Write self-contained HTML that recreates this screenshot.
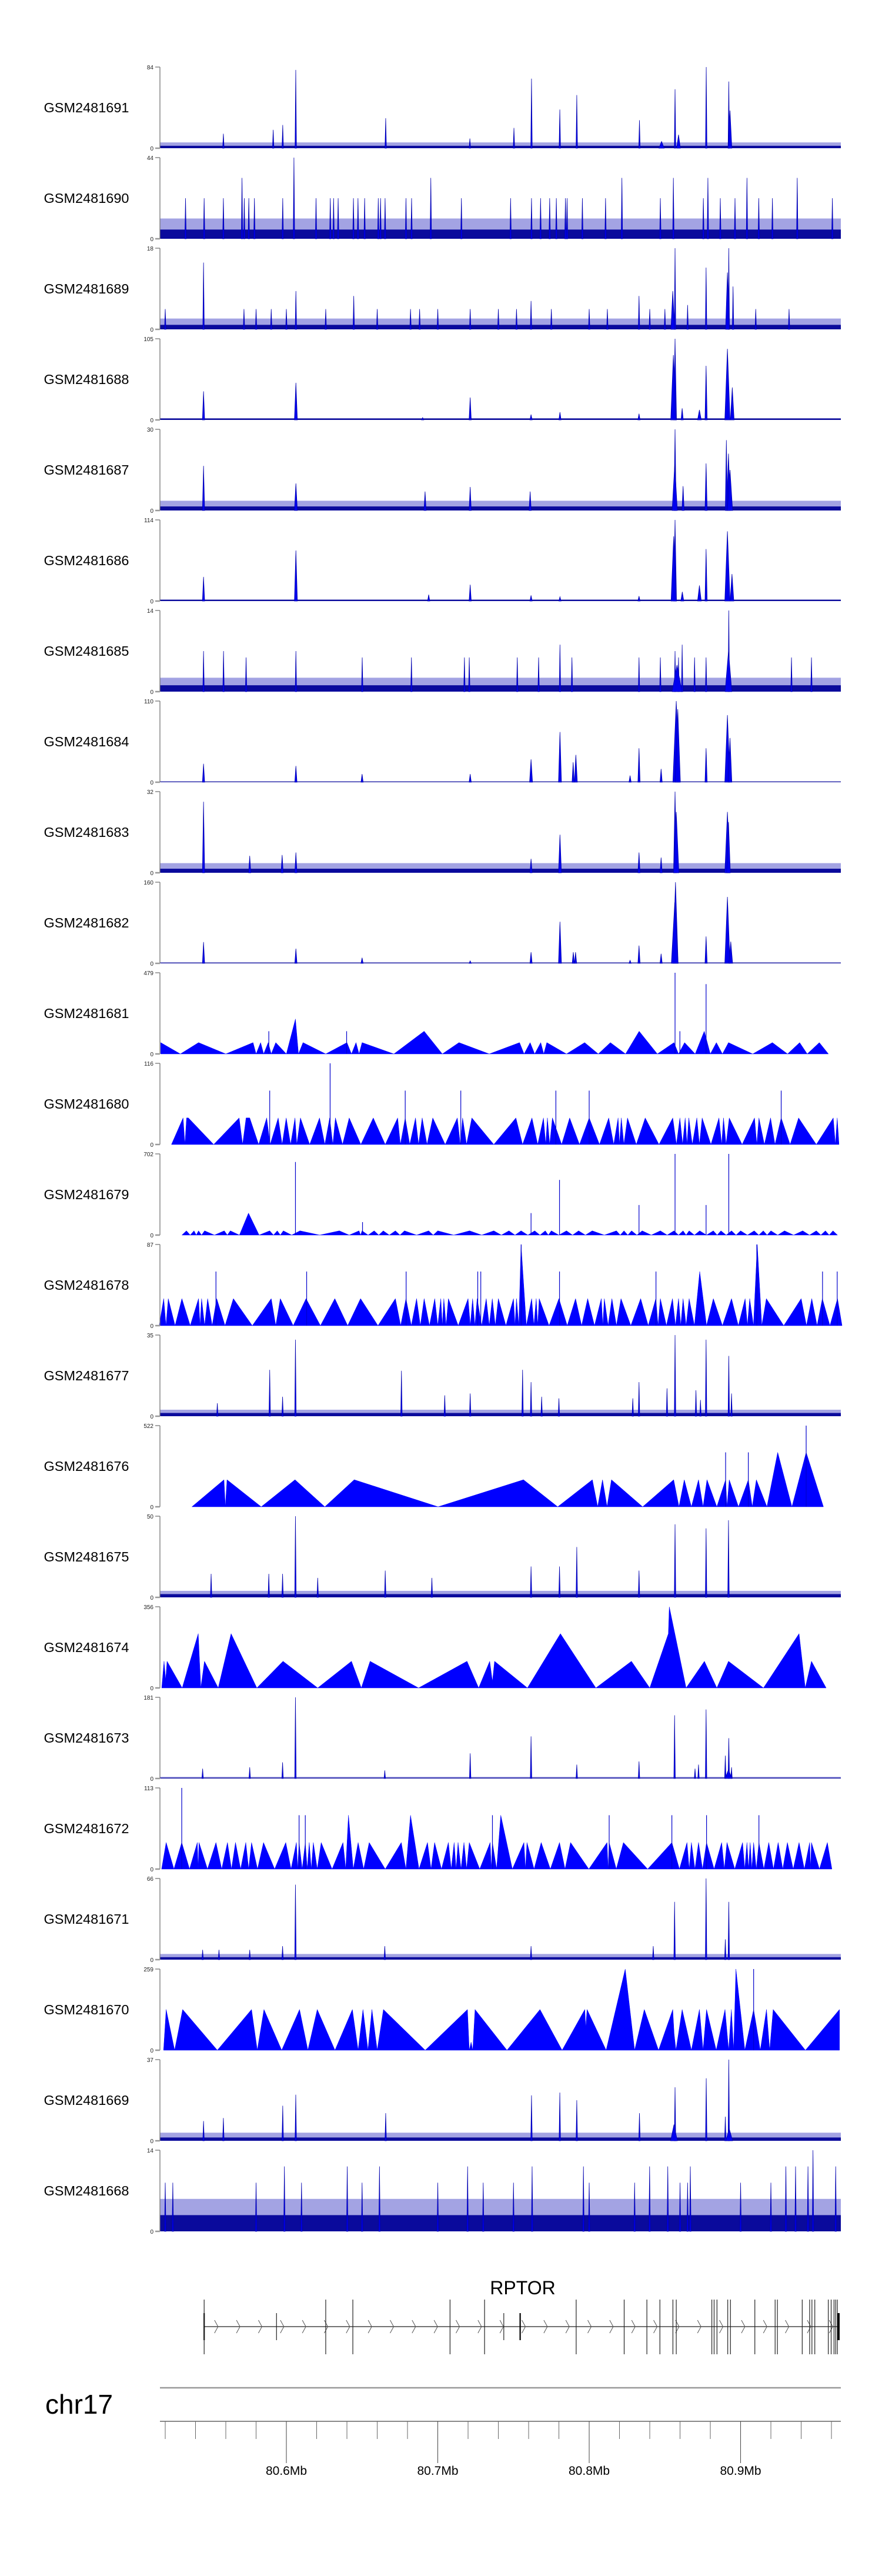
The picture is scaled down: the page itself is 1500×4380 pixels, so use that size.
<!DOCTYPE html>
<html><head><meta charset="utf-8"><title>RPTOR tracks</title>
<style>html,body{margin:0;padding:0;background:#fff}svg{display:block}text{font-family:"Liberation Sans",Arial,sans-serif}</style>
</head><body>
<svg id="fig" width="1500" height="4380" viewBox="0 0 1500 4380" xmlns="http://www.w3.org/2000/svg"></svg>
<script>
// ---- data (positions in kb relative to 80.5 Mb) ----
const trackNames = ["GSM2481691","GSM2481690","GSM2481689","GSM2481688","GSM2481687","GSM2481686","GSM2481685","GSM2481684","GSM2481683","GSM2481682","GSM2481681","GSM2481680","GSM2481679","GSM2481678","GSM2481677","GSM2481676","GSM2481675","GSM2481674","GSM2481673","GSM2481672","GSM2481671","GSM2481670","GSM2481669","GSM2481668"];
const trackMax = [84,44,18,105,30,114,14,110,32,160,479,116,702,87,35,522,50,356,181,113,66,259,37,14];
const floorVals = [2.5,5,1,2,1.5,2,1.1,1,1.6,1.6,0,0,0,0,1.4,0,2,0,1.8,0,2,0,1.5,2.8];
const grassVals = [6,11,2.4,0,3.6,0,2.4,0,3.8,0,0,0,0,0,2.8,0,4,0,3.6,0,4.6,0,3.7,5.6];

const peaks1691 = [[106.2,81],[97.6,24],[91.3,19],[58.4,15],[165.6,31],[261.9,72],[250.3,21],[280.6,40],[291.8,55],[333.2,29],[356.7,61],[377.3,84],[392.2,69],[393,39,2],[221.2,10],[347.8,7,3],[359,14,2]];
const peaks1690 = [[105,44],[70.7,33],[195.4,33],[321.6,33],[355.6,33],[378.4,33],[404.2,33],[437.4,33],[33.4,22],[45.7,22],[58.4,22],[72.2,22],[75.2,22],[78.9,22],[97.6,22],[119.6,22],[129,22],[131.2,22],[134.2,22],[144.3,22],[147.3,22],[151.7,22],[160.7,22],[162.2,22],[165.2,22],[179,22],[182.7,22],[215.6,22],[248.1,22],[261.9,22],[267.9,22],[273.9,22],[278.3,22],[284.3,22],[285.4,22],[295.5,22],[310.8,22],[347,22],[375.4,22],[386.6,22],[396.3,22],[412,22],[421,22],[460.6,22]];
const peaks1689 = [[45.3,14.8],[106.3,8.5],[144.5,7.4],[261.6,6.3],[332.9,7.4],[356.7,18],[355.2,8.5,2],[377.2,13.7],[392.2,18],[391.3,12.6,2],[395,9.5],[365,5.4],[20,4.5],[72,4.5],[80,4.5],[90,4.5],[100,4.5],[126,4.5],[160,4.5],[182,4.5],[188,4.5],[200,4.5],[221.4,4.5],[240,4.5],[252,4.5],[275,4.5],[300,4.5],[312,4.5],[340,4.5],[350,4.5],[410,4.5],[432,4.5]];
const peaks1688 = [[45.3,37,1],[106.3,48,1.5],[221.4,29,1],[261.6,7,1],[280.7,10,1],[332.9,8,1],[356.7,105,1.5],[355.6,84,3],[361.4,15,1],[372.8,13,2],[377.2,70,1],[391.3,92,3],[394.5,42,2],[190,3,1]];
const peaks1687 = [[45.3,16.5,1],[106.3,10,1.5],[221.4,8.7,1],[356.7,30,1],[356.5,17,3],[362,9,1],[377.2,17.4,1],[390.6,26,1],[392,21,2],[393,15,3],[191.6,7,1],[261,7,1]];
const peaks1686 = [[45.3,34,1],[106.3,71,1.5],[194,9,1],[221.4,23,1],[261.6,8,1],[280.7,6,1],[332.9,7,1],[356.7,114,1.5],[355.8,91,3],[361.5,13,1.5],[372.8,22,2],[377.2,73,1],[391.3,98,3],[394.3,38,2]];
const peaks1685 = [[45.3,7],[58.5,7],[106.3,7],[356.7,7],[280.7,8.1],[361.4,8.1],[73.4,5.9],[150.1,5.9],[182.6,5.9],[217.6,5.9],[220.8,5.9],[252.5,5.9],[266.6,5.9],[288.6,5.9],[332.9,5.9],[347,5.9],[359,5.9],[369.6,5.9],[377.2,5.9],[433.6,5.9],[446.8,5.9],[392.2,14],[358,4.6,6],[392,7,4]];
const peaks1684 = [[45.3,25,1],[106.3,22,1],[150,11,1],[221.4,11,1],[261.6,31,1.5],[280.7,68,1.5],[289.4,27,1],[291.2,37,1.5],[327,9,1],[332.9,46,1],[347.5,18,1],[357.5,110,4],[358.5,99,3],[377.2,46,1],[391.3,91,3],[393,60,2]];
const peaks1683 = [[45.3,28,1],[75.8,6.7,1],[97.2,7,1],[106.3,8,1],[261.6,5.5,1],[280.7,15,1.5],[332.9,8,1],[347.5,6,1],[356.7,32,1.5],[357.5,24,3],[391.3,24,3],[392,20,2]];
const peaks1682 = [[45.3,42,1],[106.3,29,1],[150,11,1],[221.4,5,1],[261.6,22,1],[280.7,82,1.5],[289.5,22,1],[291,22,1],[327,6,1],[332.9,35,1],[347.5,19,1],[357,160,3],[356.5,120,4],[377.2,53,1],[391.3,131,3],[393.5,43,2]];
const peaks1677 = [[89,20],[106,33],[97.5,8.4],[176,19.6],[204.6,9],[221.4,9.8],[256,20],[261.6,14.7],[268.6,8.4],[280,7.7],[328.8,7.7],[332.9,14.7],[351.4,12],[356.7,35],[370.5,11.2],[373.5,7],[377.2,33],[392.2,26],[394,9.8],[54.4,5.6]];
const peaks1675 = [[106,50],[356.7,45],[377.2,42.5],[392,47.5],[291.8,31],[261.6,19],[280.4,19],[332.9,16.5],[165.3,16.5],[50.3,14.5],[88.4,14.5],[97.5,14.5],[120.7,12],[196.1,12]];
const peaks1673 = [[106,181],[221.4,56],[261.6,94],[291.8,31],[332.9,38],[356.4,141],[377.2,154],[392.2,90],[389.9,51],[394,25],[372.2,31],[369.9,22],[44.7,22],[75.8,25],[97.5,36],[165,18],[392,20,4]];
const peaks1671 = [[106,61],[356.4,47],[377.2,66],[392.2,47],[389.9,16.5],[97.5,11],[261.6,11],[165,11],[342.3,11],[44.7,8],[55.5,8],[75.8,8]];
const peaks1669 = [[392.2,37],[377.3,28.5],[356.7,24.4],[280.6,22],[261.9,20.7],[291.8,18.5],[333.2,12.6],[106.2,21],[97.6,16],[165.6,12.6],[58.4,10.4],[45.3,9],[389.9,11],[356,7.4,4],[392.5,5.5,4]];
const peaks1668 = [[98.7,11.2],[140.2,11.2],[161.5,11.2],[219.7,11.2],[262.3,11.2],[296.2,11.2],[339.9,11.2],[351.9,11.2],[366.8,11.2],[429.9,11.2],[436.3,11.2],[444.5,11.2],[447.8,14],[462.8,11.2],[20,8.4],[25,8.4],[80,8.4],[110,8.4],[150,8.4],[200,8.4],[230,8.4],[250,8.4],[300,8.4],[330,8.4],[360,8.4],[365,8.4],[400,8.4],[420,8.4]];

// triangle tracks (explicit vertices)
const tri1681X = [17,30,42,60,78,80,83,85,88,90,93,100,106,108,111,126,140,143,146,148,150,171,191,203,214,234,254,257,261,264,268,270,272,285,297,306,314,324,333,345,356,359,363,370,376,380,384,388,392,408,421,431,439,444,452,458];
const tri1681Y = [67,0,67,0,67,0,67,0,67,0,67,0,206,0,67,0,67,0,67,0,67,0,134,0,67,0,67,0,67,0,67,0,67,0,67,0,67,0,134,0,67,0,67,0,134,0,67,0,67,0,67,0,67,0,67,0];
const spikes1681 = [[356.7,479],[377.2,412],[359.9,134],[88.4,134],[139.8,134]];

const tri1680X = [24.1,31.8,33,34.1,35.3,52,68.8,71.1,73.4,75.8,81.7,87,89.3,94.6,97.2,99.9,102.8,105.7,106.9,109.3,115.4,121.9,125.4,128.6,130.7,132.4,137.1,141.5,149.2,157.4,165.3,173.5,175.3,178.5,181.5,185.3,187.3,189.7,192.9,196.7,204.9,212.9,214.9,216.4,219,222.5,237,251.6,256,262.2,266,269.8,271.3,272.4,273.9,275.7,281.8,287.1,293.6,300,306.8,312.9,316.2,319.1,320,321.2,322.9,325.3,331.1,337,346.1,355.2,357.6,359.9,361.7,363.4,364.6,365.8,368.1,371.1,372.8,374.6,380.4,385.7,387.5,388.7,390.4,392.5,401,409.2,410.7,412.1,415.7,419.8,422.7,426.8,432.7,438.3,450,461.2,462.6,463.8,465];
const tri1680Y = [0,38,0,38,38,0,38,0,38,38,0,38,0,38,0,38,0,38,0,38,0,38,0,38,0,38,0,38,0,38,0,38,0,38,0,38,0,38,0,38,0,38,0,38,0,38,0,38,0,38,0,38,0,38,0,38,0,38,0,38,0,38,0,38,0,38,0,38,0,38,0,38,0,38,0,38,0,38,0,38,0,38,0,38,0,38,0,38,0,38,0,38,0,38,0,38,0,38,0,38,0,38,0];
const spikes1680 = [[89,77],[128.9,116],[178.5,77],[215.2,77],[278,77],[300,77],[426.8,77]];

const tri1676X = [37.6,58.8,59.7,60.8,83.4,105.7,125.4,144.8,200.2,256.6,279.2,302.1,305.6,308.8,311.8,314.7,335.3,355.8,359.3,362.8,367.5,372.2,375.2,377.8,384.3,390.1,391,392.5,398.6,405.1,407.7,410.4,417.4,424.5,433.9,443.3,454.7];
const tri1676Y = [0,174,0,174,0,174,0,174,0,174,0,174,0,174,0,174,0,174,0,174,0,174,0,174,0,174,0,174,0,174,0,174,0,350,0,350,0];
const spikes1676 = [[390.1,350],[405.1,350],[443.3,522]];

const tri1674X = [17.7,19.2,20.3,21.2,31.2,41.8,43.5,45.9,55,63.5,80.5,97.8,120.7,143,149.5,155.3,187.3,219.3,227,234.3,236.1,237.5,259.2,281,304.4,327.9,340,352.3,352.9,364,376.1,384.3,392,415.1,438.6,442.7,446.8,456.5];
const tri1674Y = [0,117,36,117,0,238,0,117,0,238,0,117,0,117,0,117,0,117,0,117,28,117,0,238,0,117,0,238,356,0,117,0,117,0,238,0,117,0];
const spikes1674 = [];

const tri1670X = [18.9,20.6,26.2,31.5,54.4,77,80.8,85.2,96.9,108.7,114.2,120.4,132.1,143.6,147.4,150.6,153.9,156.5,160,164.1,191.7,219.6,220.8,222,223.1,224.6,245.7,267.5,282.1,297.1,297.7,298.6,311.2,323.8,330,336.4,345.8,355.2,356.1,357.3,361.4,367.5,372.8,375.2,377.5,383.9,389.7,392.1,393.9,395.4,396.9,402.8,408.6,413,417.1,419.2,421.5,442.8,465.3];
const tri1670Y = [0,130,0,130,0,130,0,130,0,130,0,130,0,130,0,130,0,130,0,130,0,130,0,26,0,130,0,130,0,130,73,130,0,259,0,130,0,130,52,0,130,0,130,0,130,0,130,0,130,0,259,0,130,0,130,0,130,0,130];
const spikes1670 = [[408.6,259]];

// triangle tracks given as apexes (valleys halfway between)
const apex1679X = [34,39,42,46,59,63,75,89,94,98,109,135,148,150,158,164,172,178,194,200,221,237,247,255,264,271,275,285,293,302,318,323,328,335,347,356,362,366,373,382,387,394,400,409,415,420,429,441,450,456,461];
const apex1679Y = [37,37,37,37,37,37,190,37,37,37,37,37,37,37,37,37,37,37,37,37,37,37,37,37,37,37,37,37,37,37,37,37,37,37,37,37,37,37,37,37,37,37,37,37,37,37,37,37,37,37,37];
const spikes1679 = [[106,632],[280.4,477],[332.9,260],[356.7,702],[377.2,260],[392.2,702],[261.6,190],[150.3,112]];

const apex1678X = [19,22,31,42,44,48,54,65,90,96,113,132,149,172,179,186,191,198,202,204,207,220,223,226,232,236,240,250,252,255,262,265,267,280,291,299,308,310,315,321,334,344,347,355,359,362,366,373,382,394,403,406,411,417,440,447,454,464];
const apex1678Y = [29,29,29,29,29,29,29,29,29,29,29,29,29,29,29,29,29,29,29,29,29,29,29,29,29,29,29,29,29,87,29,29,29,29,29,29,29,29,29,29,29,29,29,29,29,29,29,58,29,29,29,29,87,29,29,29,29,29];
const spikes1678 = [[53.5,58],[113.4,58],[179.1,58],[226.4,58],[228.4,58],[280.4,58],[344.1,58],[454.1,58],[463.8,58],[255.1,87],[410.7,87]];

const apex1672X = [20.6,30.9,41.2,42.3,53.5,61.1,66.4,73.2,77,84.9,99.6,106.6,108.4,112.5,115.1,117.8,123,137.4,141,147.4,154.7,175.9,182,193.2,197.9,207,210.8,213.4,217.3,220.8,234.6,236.1,241.6,256.9,258.9,268.3,280.4,287.7,311.8,313.2,322.6,354.6,364.6,367.5,372.2,377.5,387.5,391,401.3,404.2,406.3,408.6,412.1,418.6,424.8,430.9,438.6,445.6,446.8,457.3];
const apex1672Y = [37,37,37,37,37,37,37,37,37,37,37,37,37,37,37,37,37,37,75,37,37,37,75,37,37,37,37,37,37,37,37,37,75,37,37,37,37,37,37,37,37,37,37,37,37,37,37,37,37,37,37,37,37,37,37,37,37,37,37,37];
const spikes1672 = [[30.9,113],[108.4,75],[112.5,75],[236.1,75],[313.2,75],[354.6,75],[377.5,75],[412.1,75]];

// gene model (kb)
const exonTall = [126,143.9,208.1,230.9,291.4,323.1,338.1,346.7,355.3,357.5,381,382.5,384.4,391.5,393.3,409.4,422.8,424.3,440.7,445.6,447.1,449,457.9,459.8,461.7,462.8,463.9];
const exonShort = [93.5,243.6];
const exonThick = [45.7,254.4];
const geneStart = 45.7, geneEnd = 465.4;
const minorTicks = [20,40,60,80,120,140,160,180,220,240,260,280,320,340,360,380,420,440,460];
const majorTicks = [100,200,300,400];
const majorLabels = ["80.6Mb","80.7Mb","80.8Mb","80.9Mb"];

// ---- rendering ----
const NS = "http://www.w3.org/2000/svg";
const svg = document.getElementById("fig");
const X0 = 272, X1 = 1430, KB0 = 16.5, KB1 = 466.2;
function xs(kb){ return X0 + (kb - KB0) / (KB1 - KB0) * (X1 - X0); }
const TOP0 = 114, PITCH = 154, PH = 138;
function mk(tag, attrs, parent){ const e = document.createElementNS(NS, tag); for (const k in attrs) e.setAttribute(k, attrs[k]); (parent||svg).appendChild(e); return e; }

const signalPeaks = {GSM2481691:peaks1691,GSM2481690:peaks1690,GSM2481689:peaks1689,GSM2481688:peaks1688,GSM2481687:peaks1687,GSM2481686:peaks1686,GSM2481685:peaks1685,GSM2481684:peaks1684,GSM2481683:peaks1683,GSM2481682:peaks1682,GSM2481677:peaks1677,GSM2481675:peaks1675,GSM2481673:peaks1673,GSM2481671:peaks1671,GSM2481669:peaks1669,GSM2481668:peaks1668};
const triVerts = {GSM2481681:[tri1681X,tri1681Y,spikes1681],GSM2481680:[tri1680X,tri1680Y,spikes1680],GSM2481676:[tri1676X,tri1676Y,spikes1676],GSM2481674:[tri1674X,tri1674Y,spikes1674],GSM2481670:[tri1670X,tri1670Y,spikes1670]};
const triApex = {GSM2481679:[apex1679X,apex1679Y,spikes1679],GSM2481678:[apex1678X,apex1678Y,spikes1678],GSM2481672:[apex1672X,apex1672Y,spikes1672]};

trackNames.forEach((name, i) => {
  const top = TOP0 + i * PITCH, base = top + PH, max = trackMax[i];
  const ys = v => base - Math.min(v, max) / max * PH;
  const g = mk("g", {});
  
  
  const lab = mk("text", {x:147, y:top + PH/2 + 8, "text-anchor":"middle", "font-size":23.5, fill:"#000"}, g);
  lab.textContent = name;
  
  
  const dg = mk("g", {}, g);
  
  
  if (signalPeaks[name]) {
    if (grassVals[i] > 0) {
      const r = mk("rect", {x:X0, y:ys(grassVals[i]), width:X1-X0, height:base-ys(grassVals[i]), fill:"#1a1ab8", "fill-opacity":0.4}, dg);
      
      
    }
    const f = mk("rect", {x:X0, y:ys(floorVals[i]), width:X1-X0, height:base-ys(floorVals[i]), fill:"#0a0a9c"}, dg);
    
    
    signalPeaks[name].forEach(p => {
      const w = p[2] || 0.5;
      const pts = [[xs(p[0]-w/2)-0.6, base], [xs(p[0]), ys(p[1])], [xs(p[0]+w/2)+0.6, base]];
      const pk = mk("polygon", {points: pts.map(q=>q.join(",")).join(" "), fill:"#0000ee", stroke:"#0000b0", "stroke-width":0.8}, dg);
      
      
    });
  } else {
    let X, Y, S;
    if (triVerts[name]) { [X, Y, S] = triVerts[name]; }
    else {
      const [AX, AY, AS] = triApex[name]; X = []; Y = []; S = AS;
      X.push(AX[0] - 3); Y.push(0);
      for (let k = 0; k < AX.length; k++) {
        X.push(AX[k]); Y.push(AY[k]);
        if (k < AX.length - 1) { X.push((AX[k] + AX[k+1]) / 2); Y.push(0); }
      }
      X.push(AX[AX.length-1] + 3); Y.push(0);
    }
    const n = Math.min(X.length, Y.length);
    let d = "M" + xs(X[0]) + "," + base;
    for (let k = 0; k < n; k++) d += " L" + xs(X[k]) + "," + ys(Y[k]);
    d += " L" + xs(X[n-1]) + "," + base + " Z";
    const pa = mk("path", {d: d, fill:"#0000ff", stroke:"#0000ff", "stroke-width":0.5}, dg);
    
    
    S.forEach(s => {
      const ln = mk("line", {x1:xs(s[0]), x2:xs(s[0]), y1:base, y2:ys(s[1]), stroke:"#0000cc", "stroke-width":1.2}, dg);
      
      
    });
  }
  const ax = mk("g", {}, g);
  
  
  mk("line", {x1:X0, x2:X0, y1:top, y2:base, stroke:"#777", "stroke-width":1.3}, ax);
  mk("line", {x1:264, x2:X0, y1:top, y2:top, stroke:"#777", "stroke-width":1.3}, ax);
  mk("line", {x1:264, x2:X0, y1:base, y2:base, stroke:"#999", "stroke-width":2.5}, ax);
  const tMax = mk("text", {x:261, y:top+4, "text-anchor":"end", "font-size":10, fill:"#222"}, ax);
  tMax.textContent = String(max);
  
  
  const tZero = mk("text", {x:261, y:base+4, "text-anchor":"end", "font-size":10, fill:"#222"}, ax);
  tZero.textContent = "0";
  
  
});

// gene model
const gg = mk("g", {});


const gt = mk("text", {x:889, y:3901, "text-anchor":"middle", "font-size":32, fill:"#000"}, gg);
gt.textContent = "RPTOR";


mk("line", {x1:xs(geneStart), x2:xs(geneEnd), y1:3956, y2:3956, stroke:"#444", "stroke-width":1.5}, gg);
for (let kb = geneStart + 8; kb < geneEnd - 4; kb += 14.5) {
  const cx = xs(kb);
  mk("polyline", {points:(cx-3)+",3945 "+(cx+3)+",3956 "+(cx-3)+",3967", fill:"none", stroke:"#555", "stroke-width":1}, gg);
}
exonTall.forEach(kb => { const e = mk("line", {x1:xs(kb), x2:xs(kb), y1:3910, y2:4003, stroke:"#222", "stroke-width":1.2}, gg);   });
exonShort.forEach(kb => { const e = mk("line", {x1:xs(kb), x2:xs(kb), y1:3933, y2:3979, stroke:"#222", "stroke-width":1.2}, gg);   });
exonThick.forEach(kb => { const e = mk("line", {x1:xs(kb), x2:xs(kb), y1:3933, y2:3979, stroke:"#000", "stroke-width":2.2}, gg);   });
mk("line", {x1:xs(geneStart), x2:xs(geneStart), y1:3910, y2:4003, stroke:"#222", "stroke-width":1.2}, gg);
mk("rect", {x:xs(geneEnd)-4, y:3933, width:4, height:46, fill:"#000"}, gg);

// genome axis
const ag = mk("g", {});


const chr = mk("text", {x:77, y:4104, "font-size":46, fill:"#000"}, ag);
chr.textContent = "chr17";


mk("line", {x1:X0, x2:X1, y1:4060, y2:4060, stroke:"#999", "stroke-width":2.5}, ag);
mk("line", {x1:X0, x2:X1, y1:4117, y2:4117, stroke:"#888", "stroke-width":2}, ag);
minorTicks.forEach(kb => mk("line", {x1:xs(kb), x2:xs(kb), y1:4117, y2:4147, stroke:"#666", "stroke-width":1}, ag));
majorTicks.forEach((kb, k) => {
  mk("line", {x1:xs(kb), x2:xs(kb), y1:4117, y2:4188, stroke:"#444", "stroke-width":1}, ag);
  const t = mk("text", {x:xs(kb), y:4208, "text-anchor":"middle", "font-size":21, fill:"#000"}, ag);
  t.textContent = majorLabels[k];
  
  
});
</script>
</body></html>
